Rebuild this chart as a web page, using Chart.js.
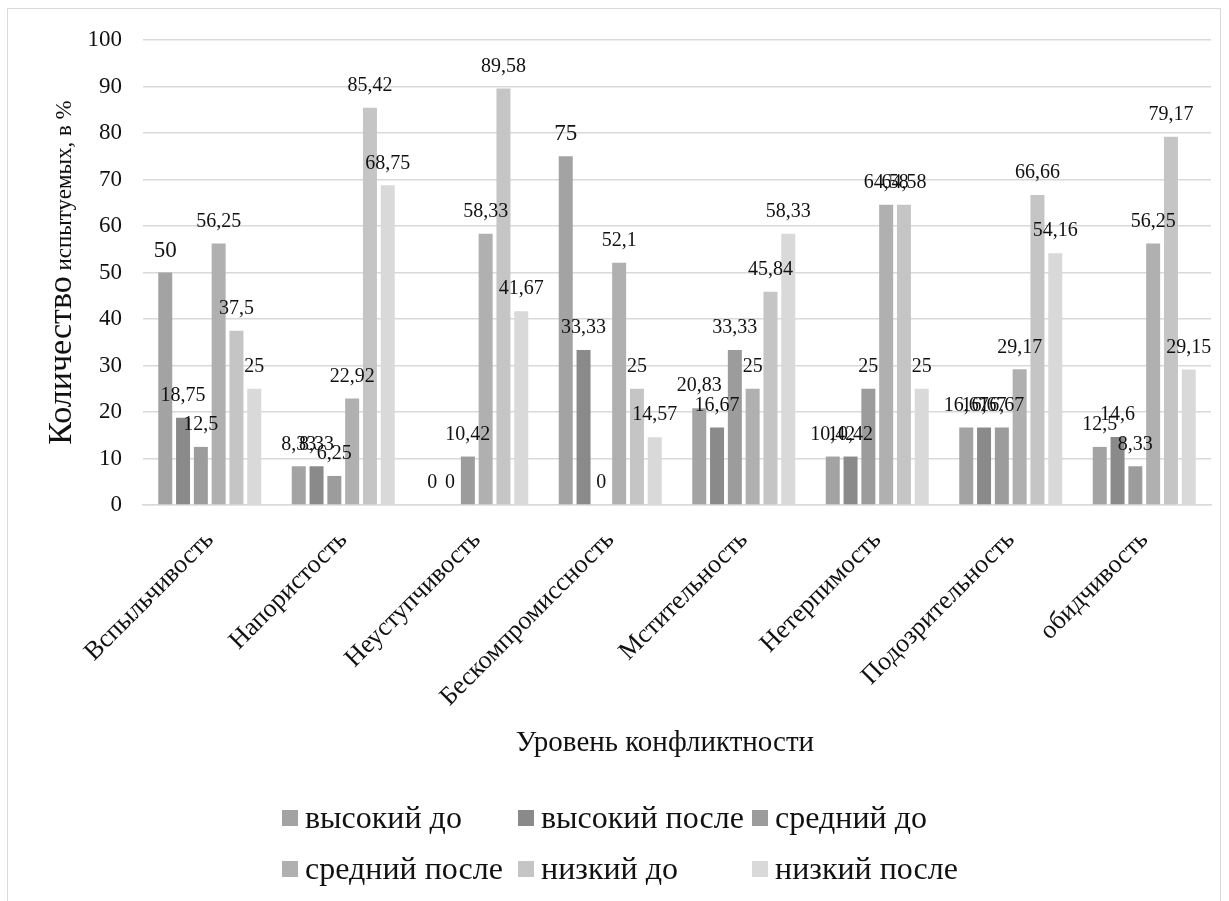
<!DOCTYPE html>
<html>
<head>
<meta charset="utf-8">
<script src="https://cdn.jsdelivr.net/npm/chart.js@4.4.1/dist/chart.umd.min.js"></script>
<style>
  html, body { margin: 0; padding: 0; background: #ffffff; }
  #wrap { position: relative; width: 1229px; height: 901px; }
</style>
</head>
<body>
<div id="wrap"><canvas id="c" width="1229" height="901"></canvas></div>
<script>
// Conflict-proneness traits (x categories)
const categories = ['Вспыльчивость', 'Напористость', 'Неуступчивость', 'Бескомпромиссность',
  'Мстительность', 'Нетерпимость', 'Подозрительность', 'обидчивость'];

// Series names
const seriesNames = ['высокий до', 'высокий после', 'средний до', 'средний после', 'низкий до', 'низкий после'];

// Share of participants, %
const highBefore = [50, 8.33, 0, 75, 20.83, 10.42, 16.67, 12.5];
const highAfter = [18.75, 8.33, 0, 33.33, 16.67, 10.42, 16.67, 14.6];
const midBefore = [12.5, 6.25, 10.42, 0, 33.33, 25, 16.67, 8.33];
const midAfter = [56.25, 22.92, 58.33, 52.1, 25, 64.58, 29.17, 56.25];
const lowBefore = [37.5, 85.42, 89.58, 25, 45.84, 64.58, 66.66, 79.17];
const lowAfter = [25, 68.75, 41.67, 14.57, 58.33, 25, 54.16, 29.15];

// Y axis ticks
const yTicks = [0, 10, 20, 30, 40, 50, 60, 70, 80, 90, 100];

const seriesValues = [highBefore, highAfter, midBefore, midAfter, lowBefore, lowAfter];
const seriesColors = ['#a3a3a3', '#8a8a8a', '#9c9c9c', '#b0b0b0', '#c5c5c5', '#d9d9d9'];

const FONT = "'Liberation Serif', 'Times New Roman', serif";
const TEXT = '#111111';

// Value labels above each bar (decimal comma); the two lead values use a larger size
const emphasized = new Set(['0:0', '0:3']);
const valueLabels = {
  id: 'valueLabels',
  afterDatasetsDraw(chart) {
    const ctx = chart.ctx;
    ctx.save();
    ctx.fillStyle = TEXT;
    ctx.textAlign = 'center';
    ctx.textBaseline = 'middle';
    chart.data.datasets.forEach((ds, i) => {
      const meta = chart.getDatasetMeta(i);
      meta.data.forEach((bar, j) => {
        const big = emphasized.has(i + ':' + j);
        ctx.font = (big ? 23 : 20) + 'px ' + FONT;
        const txt = String(ds.data[j]).replace('.', ',');
        ctx.fillText(txt, bar.x, bar.y - 22);
      });
    });
    ctx.restore();
  }
};

// Frame, axis titles and the two-row legend
const decorations = {
  id: 'decorations',
  beforeDraw(chart) {
    const ctx = chart.ctx;
    ctx.save();
    ctx.fillStyle = '#ffffff';
    ctx.fillRect(0, 0, chart.width, chart.height);
    ctx.strokeStyle = '#d9d9d9';
    ctx.lineWidth = 1;
    ctx.strokeRect(7.5, 8.5, 1213, 1000);
    ctx.restore();
  },
  afterDraw(chart) {
    const ctx = chart.ctx;
    const area = chart.chartArea;
    ctx.save();
    ctx.fillStyle = TEXT;

    // Y title: large first word, smaller remainder, reading bottom to top,
    // centred on the plot area
    const partA = 'Количество';
    const partB = ' испытуемых, в %';
    const fA = '34px ' + FONT, fB = '23px ' + FONT;
    ctx.font = fA; const wA = ctx.measureText(partA).width;
    ctx.font = fB; const wB = ctx.measureText(partB).width;
    const total = wA + wB;
    ctx.translate(71, (area.top + area.bottom) / 2);
    ctx.rotate(-Math.PI / 2);
    ctx.textBaseline = 'alphabetic';
    ctx.textAlign = 'left';
    ctx.font = fA; ctx.fillText(partA, -total / 2, 0);
    ctx.font = fB; ctx.fillText(partB, -total / 2 + wA, 0);
    ctx.setTransform(1, 0, 0, 1, 0, 0);

    // X title
    ctx.font = '29px ' + FONT;
    ctx.textAlign = 'center';
    ctx.textBaseline = 'middle';
    ctx.fillText('Уровень конфликтности', 665, 743);

    // Legend: three columns, two rows
    const cols = [282, 518, 752];
    const rows = [818, 869];
    ctx.font = '32px ' + FONT;
    ctx.textAlign = 'left';
    seriesNames.forEach((name, k) => {
      const x = cols[k % 3];
      const y = rows[Math.floor(k / 3)];
      ctx.fillStyle = seriesColors[k];
      ctx.fillRect(x, y - 8, 16, 16);
      ctx.fillStyle = TEXT;
      ctx.fillText(name, x + 23, y + 2);
    });
    ctx.restore();
  }
};

new Chart(document.getElementById('c'), {
  type: 'bar',
  data: {
    labels: categories,
    datasets: seriesNames.map((name, i) => ({
      label: name,
      data: seriesValues[i],
      backgroundColor: seriesColors[i],
      borderWidth: 0,
      categoryPercentage: 0.8,
      barPercentage: 0.786
    }))
  },
  options: {
    responsive: false,
    animation: false,
    devicePixelRatio: 1,
    layout: { padding: { top: 40, right: 18, bottom: 120, left: 0 } },
    plugins: {
      legend: { display: false },
      tooltip: { enabled: false },
      title: { display: false }
    },
    scales: {
      x: {
        grid: { display: false },
        border: { display: true, color: '#d9d9d9', width: 1.5 },
        ticks: {
          color: TEXT,
          font: { family: FONT, size: 26 },
          minRotation: 45,
          maxRotation: 45,
          padding: 12,
          autoSkip: false
        },
        afterFit(scale) { scale.height = 901 - 120 - 505; }
      },
      y: {
        min: 0,
        max: 100,
        afterBuildTicks(scale) { scale.ticks = yTicks.map(v => ({ value: v })); },
        grid: { color: '#d9d9d9', lineWidth: 1.5, drawTicks: false },
        border: { display: false },
        ticks: {
          color: TEXT,
          font: { family: FONT, size: 23 },
          padding: 21
        },
        afterFit(scale) { scale.width = 143; }
      }
    }
  },
  plugins: [decorations, valueLabels]
});
</script>
</body>
</html>
